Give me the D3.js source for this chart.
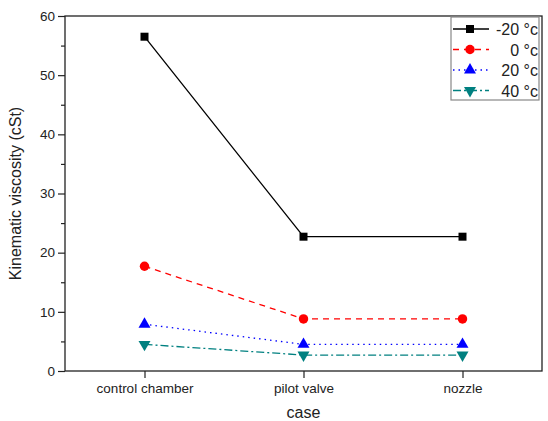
<!DOCTYPE html>
<html>
<head>
<meta charset="utf-8">
<script src="https://cdn.jsdelivr.net/npm/d3@7"></script>
<style>
  body { margin: 0; background: #fff; }
  text { font-family: "Liberation Sans", Arial, sans-serif; fill: #222; }
</style>
</head>
<body>
<div id="chart"></div>
<script>
// chart values
const categories = ['control chamber', 'pilot valve', 'nozzle'];
const seriesNames = ['-20 \u00B0c', '0 \u00B0c', '20 \u00B0c', '40 \u00B0c'];
const valuesM20 = [56.5, 22.7, 22.7];
const values0 = [17.7, 8.8, 8.8];
const values20 = [7.9, 4.5, 4.5];
const values40 = [4.5, 2.7, 2.7];
const yTicks = [0, 10, 20, 30, 40, 50, 60];
const yMinorTicks = [5, 15, 25, 35, 45, 55];

const width = 548, height = 421;
const margin = { top: 16, right: 6, bottom: 50, left: 65 };
const innerW = width - margin.left - margin.right;
const innerH = height - margin.top - margin.bottom;

const svg = d3.select('#chart').append('svg')
  .attr('width', width)
  .attr('height', height);

const g = svg.append('g')
  .attr('transform', `translate(${margin.left},${margin.top})`);

const x = d3.scalePoint().domain(categories).range([0, innerW]).padding(0.5);
const y = d3.scaleLinear().domain([0, 60]).range([innerH, 0]);

// frame
g.append('rect')
  .attr('width', innerW).attr('height', innerH)
  .attr('fill', 'none').attr('stroke', '#222').attr('stroke-width', 1.3);

// y axis
const yAxisG = g.append('g')
  .call(d3.axisLeft(y).tickValues(yTicks).tickSize(7).tickPadding(3));
yAxisG.select('.domain').remove();
yAxisG.selectAll('line').attr('stroke', '#222').attr('stroke-width', 1.2);
yAxisG.selectAll('text').style('font-size', '13.5px').attr('fill', '#222');

const yMinorG = g.append('g')
  .call(d3.axisLeft(y).tickValues(yMinorTicks).tickSize(4).tickFormat(''));
yMinorG.select('.domain').remove();
yMinorG.selectAll('line').attr('stroke', '#222').attr('stroke-width', 1.2);

// x axis
const xAxisG = g.append('g')
  .attr('transform', `translate(0,${innerH})`)
  .call(d3.axisBottom(x).tickSize(7).tickPadding(5));
xAxisG.select('.domain').remove();
xAxisG.selectAll('line').attr('stroke', '#222').attr('stroke-width', 1.2);
xAxisG.selectAll('text').style('font-size', '13.5px').attr('fill', '#222');

// axis titles
svg.append('text')
  .attr('transform', `translate(21,${margin.top + innerH / 2}) rotate(-90)`)
  .attr('text-anchor', 'middle')
  .style('font-size', '16px')
  .text('Kinematic viscosity (cSt)');

svg.append('text')
  .attr('x', margin.left + innerW / 2)
  .attr('y', 418)
  .attr('text-anchor', 'middle')
  .style('font-size', '16px')
  .text('case');

// series
const series = [
  { name: seriesNames[0], values: valuesM20, color: '#000000', dash: null, marker: d3.symbolSquare, size: 64, rot: 0 },
  { name: seriesNames[1], values: values0, color: '#ff0000', dash: '6,5', marker: d3.symbolCircle, size: 70, rot: 0 },
  { name: seriesNames[2], values: values20, color: '#0000ff', dash: '1.5,4', marker: d3.symbolTriangle, size: 62, rot: 0 },
  { name: seriesNames[3], values: values40, color: '#008080', dash: '8,3,2,3', marker: d3.symbolTriangle, size: 62, rot: 180 },
];

const line = d3.line()
  .x((d, i) => x(categories[i]))
  .y((d) => y(d));

series.forEach((s) => {
  g.append('path')
    .datum(s.values)
    .attr('d', line)
    .attr('fill', 'none')
    .attr('stroke', s.color)
    .attr('stroke-width', 1.3)
    .attr('stroke-dasharray', s.dash);

  g.selectAll(null)
    .data(s.values)
    .join('path')
    .attr('d', d3.symbol(s.marker, s.size))
    .attr('transform', (d, i) => `translate(${x(categories[i])},${y(d)}) rotate(${s.rot})`)
    .attr('fill', s.color);
});

// legend
const legend = svg.append('g').attr('transform', 'translate(451,17)');
legend.append('rect')
  .attr('width', 88).attr('height', 83)
  .attr('fill', '#fff').attr('stroke', '#888').attr('stroke-width', 1.2);

series.forEach((s, i) => {
  const ly = 12 + i * 20.5;
  legend.append('line')
    .attr('x1', 2).attr('x2', 38).attr('y1', ly).attr('y2', ly)
    .attr('stroke', s.color).attr('stroke-width', 1.3)
    .attr('stroke-dasharray', s.dash);
  legend.append('path')
    .attr('d', d3.symbol(s.marker, s.size))
    .attr('transform', `translate(19,${ly}) rotate(${s.rot})`)
    .attr('fill', s.color);
  legend.append('text')
    .attr('x', 87).attr('y', ly + 6)
    .attr('text-anchor', 'end')
    .style('font-size', '16px')
    .attr('fill', '#111')
    .text(s.name);
});
</script>
</body>
</html>
